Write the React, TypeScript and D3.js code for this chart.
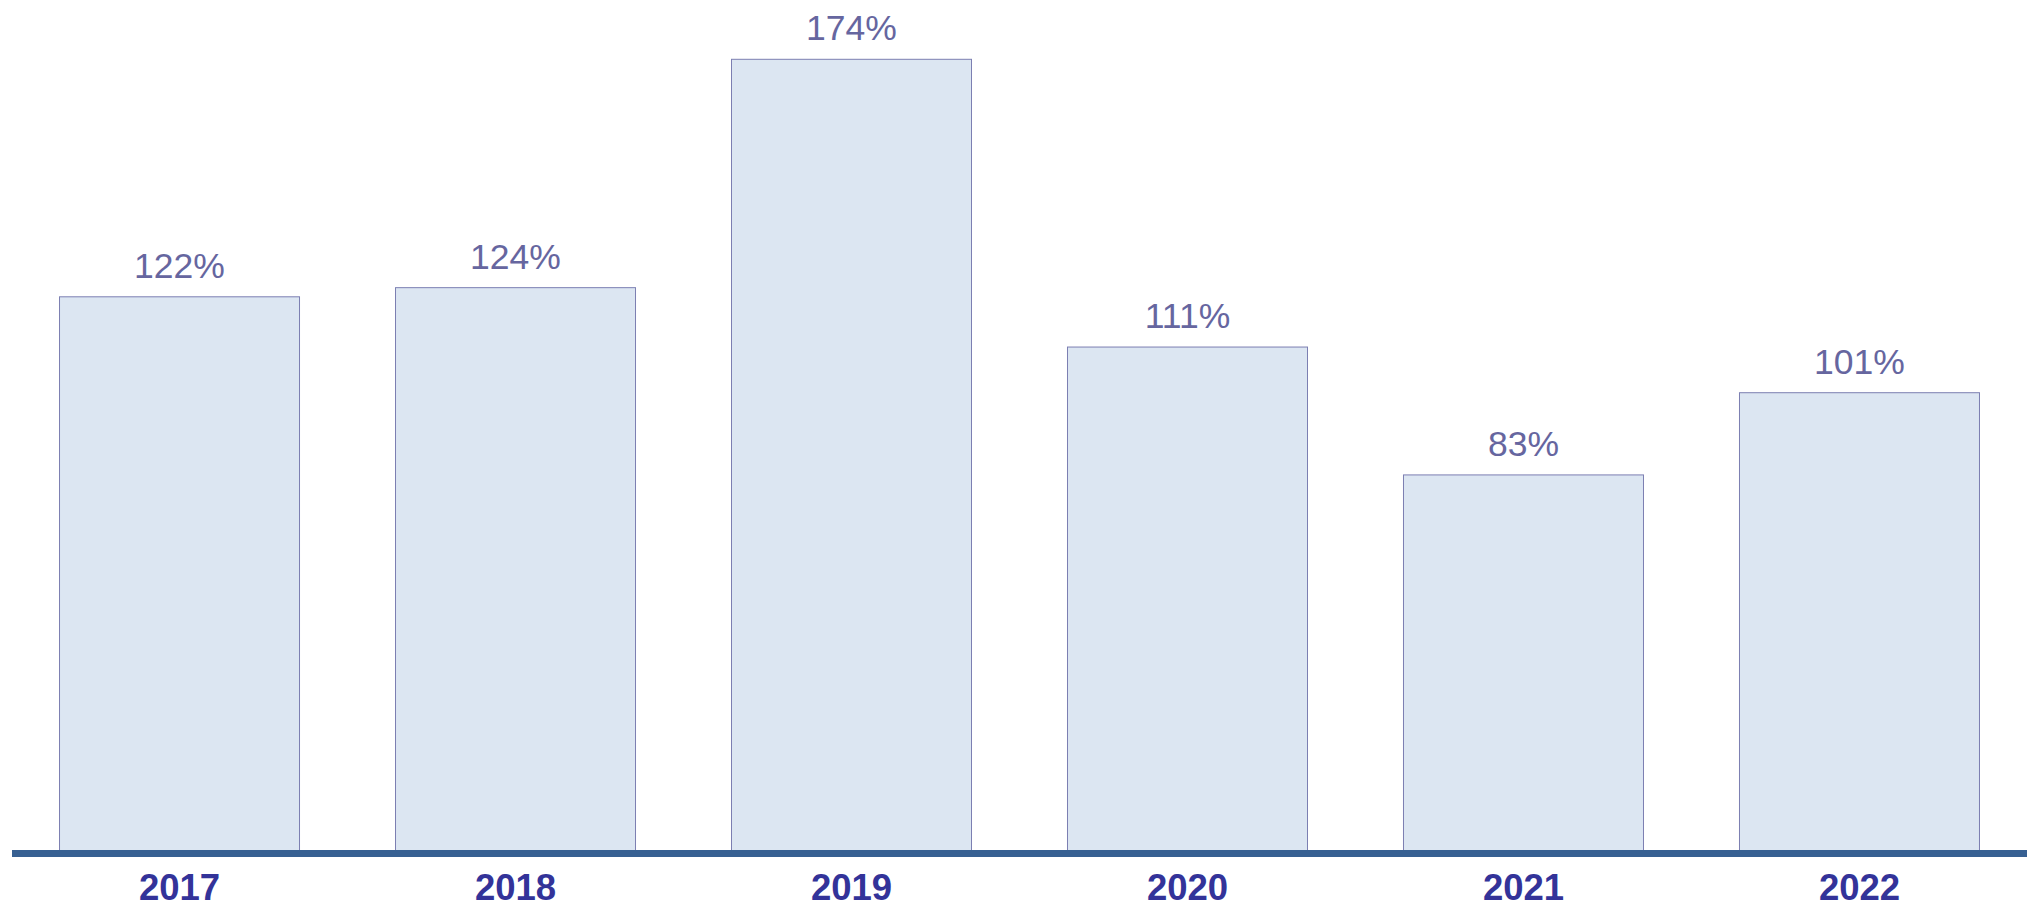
import React from "react";
import * as d3 from "d3";

const years = ["2017", "2018", "2019", "2020", "2021", "2022"];
const values = [122, 124, 174, 111, 83, 101];
const valueLabels = ["122%", "124%", "174%", "111%", "83%", "101%"];

const W = 2031;
const H = 911;

export default function App() {
  const x = d3
    .scaleBand<string>()
    .domain(years)
    .range([11.5, 2027.5])
    .paddingInner(0.2857)
    .paddingOuter(0.1429);
  const y = d3.scaleLinear().domain([0, 174]).range([854, 59.3]);
  const font = "'Liberation Sans', Arial, Helvetica, sans-serif";

  return (
    <svg
      width={W}
      height={H}
      style={{ position: "absolute", left: 0, top: 0, background: "#ffffff" }}
    >
      {years.map((yr, i) => {
        const bx = x(yr)!;
        const by = y(values[i]);
        return (
          <g key={yr}>
            <rect
              x={bx}
              y={by}
              width={x.bandwidth()}
              height={y(0) - by}
              fill="#dce6f2"
              stroke="#7c7fb2"
              strokeWidth={1}
            />
            <text
              x={bx + x.bandwidth() / 2}
              y={by - 19}
              textAnchor="middle"
              fontFamily={font}
              fontSize={35.5}
              fill="#66669f"
            >
              {valueLabels[i]}
            </text>
            <text
              x={bx + x.bandwidth() / 2}
              y={900}
              textAnchor="middle"
              fontFamily={font}
              fontSize={36.5}
              fontWeight="bold"
              fill="#333399"
            >
              {yr}
            </text>
          </g>
        );
      })}
      <line
        x1={12}
        x2={2027}
        y1={853.6}
        y2={853.6}
        stroke="#376092"
        strokeWidth={7}
      />
    </svg>
  );
}
